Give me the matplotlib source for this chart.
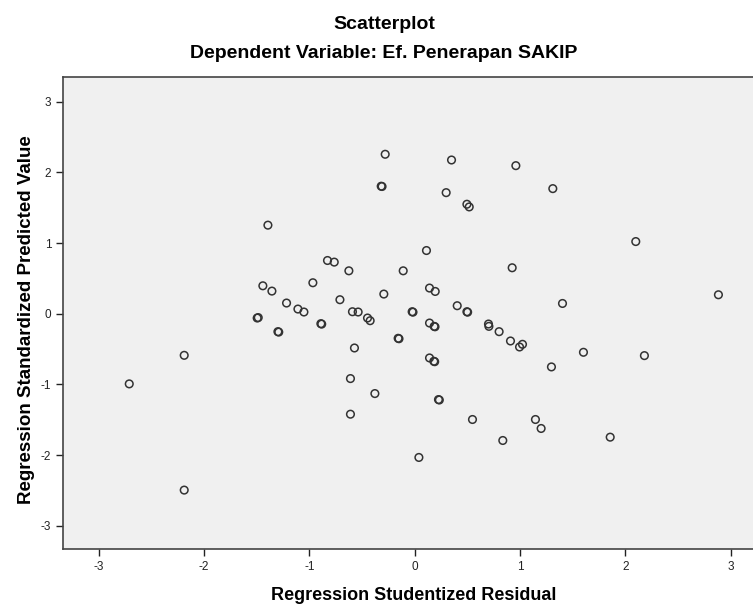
import numpy as np
import matplotlib.pyplot as plt

plt.rcParams['font.family'] = ['Liberation Sans', 'DejaVu Sans']
plt.rcParams['axes.unicode_minus'] = False

# studentized residual (x) vs standardized predicted value (y)
resid = [-1.394, -1.442, -1.356, -1.217, -1.109, -1.052, -1.496, -1.486, -0.967,
         -0.280, 0.350, 0.961, -0.318, -0.310, 0.299, 0.496, 0.518, 1.312,
         0.112, -0.828, -0.764, -0.625, -0.109, 0.926, 0.141, 0.195, -0.293,
         -0.710, 0.404, 0.496, 0.503, -0.024, -0.016, -0.591, -0.537, -0.448,
         -0.423, 2.100, 1.404, 2.885, -1.299, -1.291, -2.189, -2.711, -2.189,
         -0.891, -0.883, 0.141, 0.185, 0.193, -0.157, -0.149, 0.701, 0.705,
         0.802, 0.910, 0.996, 1.024, -0.572, 0.141, 0.182, 0.190, 1.299,
         -0.610, -0.378, 0.226, 0.234, -0.610, 0.549, 1.147, 1.201, 0.837,
         0.040, 1.603, 2.182, 1.857]
pred = [1.253, 0.395, 0.320, 0.151, 0.066, 0.024, -0.061, -0.055, 0.438,
        2.256, 2.175, 2.095, 1.804, 1.800, 1.713, 1.549, 1.511, 1.770,
        0.894, 0.753, 0.730, 0.607, 0.607, 0.650, 0.363, 0.315, 0.278,
        0.198, 0.113, 0.028, 0.022, 0.028, 0.022, 0.028, 0.024, -0.061,
        -0.099, 1.021, 0.145, 0.268, -0.254, -0.260, -0.589, -0.993, -2.496,
        -0.141, -0.147, -0.132, -0.179, -0.185, -0.348, -0.354, -0.146, -0.179,
        -0.254, -0.386, -0.471, -0.433, -0.485, -0.626, -0.673, -0.679, -0.753,
        -0.918, -1.130, -1.215, -1.221, -1.422, -1.497, -1.497, -1.624, -1.794,
        -2.034, -0.546, -0.593, -1.747]

ticks = [-3, -2, -1, 0, 1, 2, 3]

fig = plt.figure(figsize=(7.53, 6.06), dpi=100)
ax = fig.add_axes([0.0837, 0.094, 0.934, 0.779])
ax.set_facecolor('#f0f0f0')

ax.scatter(resid, pred, s=30, facecolors='none', edgecolors='#333333', linewidths=1.1)

ax.set_xlim(-3.34, 3.34)
ax.set_ylim(-3.33, 3.35)
ax.set_xticks(ticks)
ax.set_yticks(ticks)
ax.tick_params(direction='out', length=5, width=1, labelsize=8.5, colors='#222222')

for side in ['left', 'bottom', 'top', 'right']:
    ax.spines[side].set_color('#444444')
    ax.spines[side].set_linewidth(1.2)

fig.text(0.51, 0.960, 'Scatterplot', ha='center', va='center',
         fontsize=14, fontweight='bold')
fig.text(0.51, 0.912, 'Dependent Variable: Ef. Penerapan SAKIP', ha='center',
         va='center', fontsize=14, fontweight='bold')
fig.text(0.549, 0.018, 'Regression Studentized Residual', ha='center',
         va='center', fontsize=13, fontweight='bold')
fig.text(0.035, 0.472, 'Regression Standardized Predicted Value', ha='center',
         va='center', rotation=90, fontsize=13.5, fontweight='bold')

fig.savefig('out.png', dpi=100)
